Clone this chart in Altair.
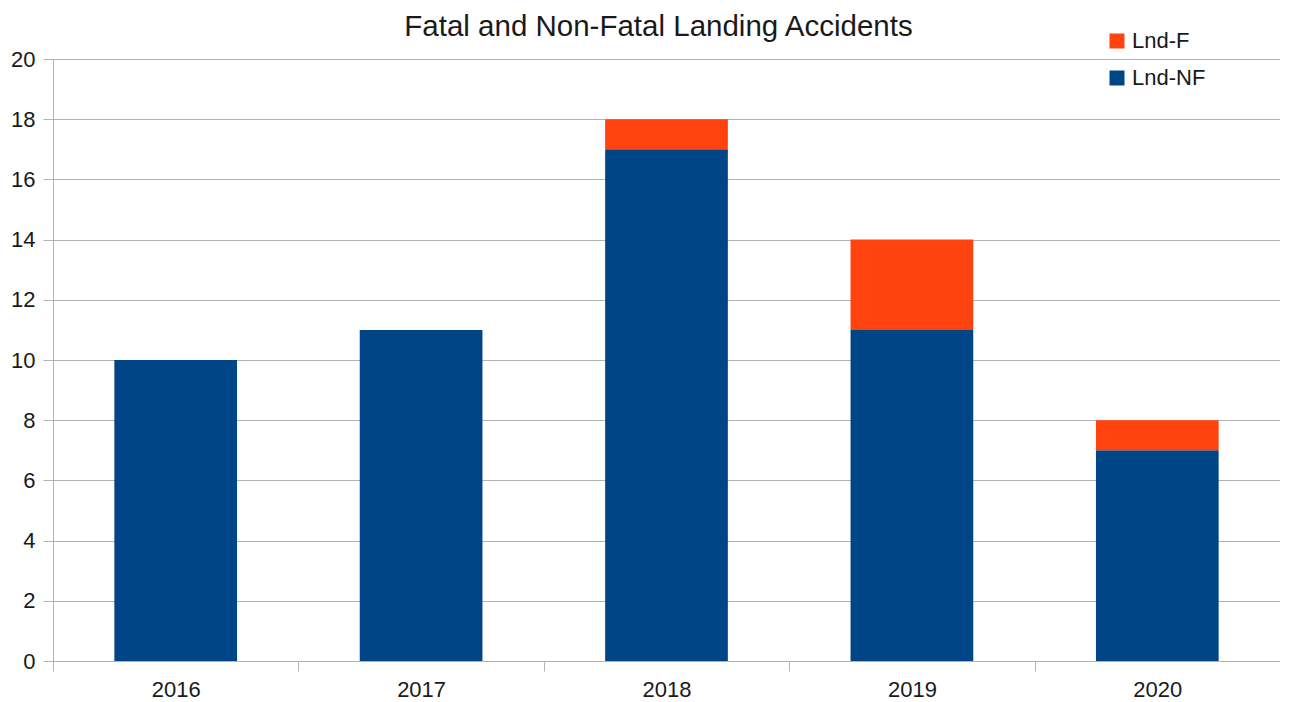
import altair as alt
import pandas as pd

years = ["2016", "2017", "2018", "2019", "2020"]
lnd_nf = [10, 11, 17, 11, 7]
lnd_f = [0, 0, 1, 3, 1]
series = ["Lnd-F", "Lnd-NF"]
colors = ["#FF420E", "#004586"]

rows = []
for y, nf, f in zip(years, lnd_nf, lnd_f):
    rows.append({"year": y, "series": "Lnd-NF", "value": nf, "ord": 0})
    rows.append({"year": y, "series": "Lnd-F", "value": f, "ord": 1})
df = pd.DataFrame(rows)

FONT = "Liberation Sans"
GRAY = "#b3b3b3"
TXT = "#1a1a1a"

chart = alt.Chart(df).mark_bar(width=alt.RelativeBandSize(0.5)).encode(
    x=alt.X("year:N", title=None,
            scale=alt.Scale(paddingInner=0, paddingOuter=0),
            axis=alt.Axis(labelAngle=0, tickBand="extent", labelFontSize=22,
                          labelFont=FONT, labelColor=TXT, labelPadding=8,
                          tickSize=10, tickColor=GRAY, domainColor=GRAY,
                          grid=False)),
    y=alt.Y("value:Q", title=None, stack="zero",
            scale=alt.Scale(domain=[0, 20], nice=False),
            axis=alt.Axis(values=list(range(0, 21, 2)), labelFontSize=22,
                          labelFont=FONT, labelColor=TXT, labelPadding=8,
                          tickSize=10, tickColor=GRAY, domainColor=GRAY,
                          gridColor=GRAY, grid=True)),
    color=alt.Color("series:N", title=None,
                    scale=alt.Scale(domain=series, range=colors),
                    legend=alt.Legend(orient="none", legendX=1053, legendY=-29,
                                      symbolType="square", symbolSize=225,
                                      symbolStrokeWidth=0,
                                      labelFontSize=22, labelFont=FONT,
                                      labelColor=TXT, labelOffset=4,
                                      rowPadding=15, padding=0)),
    order=alt.Order("ord:Q"),
).properties(
    width=1227,
    height=602,
    title=alt.Title("Fatal and Non-Fatal Landing Accidents", fontSize=29.5,
                    font=FONT, color=TXT, fontWeight="normal",
                    anchor="middle", frame="group", dx=-8, offset=-35,
                    baseline="alphabetic"),
    autosize=alt.AutoSizeParams(type="none"),
    padding={"left": 45, "top": 51, "right": 0, "bottom": 40},
).configure_view(stroke=None)

chart.save("out.html", embed_options={"renderer": "svg", "actions": False})
